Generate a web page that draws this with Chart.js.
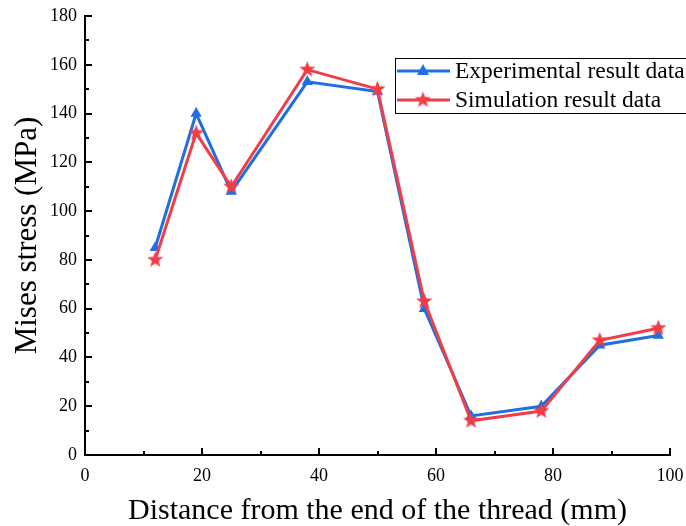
<!DOCTYPE html>
<html lang="en">
<head>
  <meta charset="UTF-8">
  <title>Mises stress along the thread</title>
  <script src="https://cdn.jsdelivr.net/npm/chart.js"></script>
  <style>
    body { margin: 0; background: #fff; }
  </style>
</head>
<body>
  <canvas id="stressChart" width="686" height="526"></canvas>

  <script>
    // values
    const distances = [12, 19, 25, 38, 50, 58, 66, 78, 88, 98];
    const experimental = [85, 140, 108, 153, 149, 60, 16, 20, 45, 49];
    const simulation = [80, 132, 110, 158, 150, 63, 14, 18, 47, 52];
    const seriesNames = ['Experimental result data', 'Simulation result data'];

    const BLUE = 'rgb(30, 110, 228)';
    const RED = 'rgb(240, 62, 72)';
    const SERIF = '"Liberation Serif", "Times New Roman", serif';

    // filled five point star used as marker
    function makeStar(color, outer, inner) {
      const c = document.createElement('canvas');
      const s = Math.ceil(outer * 2 + 2);
      c.width = s; c.height = s;
      const g = c.getContext('2d');
      g.translate(s / 2, s / 2);
      g.beginPath();
      for (let i = 0; i < 10; i++) {
        const r = i % 2 === 0 ? outer : inner;
        const a = -Math.PI / 2 + i * Math.PI / 5;
        g.lineTo(r * Math.cos(a), r * Math.sin(a));
      }
      g.closePath();
      g.fillStyle = color;
      g.fill();
      return c;
    }
    const starImg = makeStar(RED, 8.5, 3.6);

    function toPoints(xs, ys) {
      return xs.map((x, i) => ({ x: x, y: ys[i] }));
    }

    // inward ticks (major + minor) and the boxed legend
    const decorations = {
      id: 'decorations',
      afterDraw(chart) {
        const ctx = chart.ctx;
        const xs = chart.scales.x, ys = chart.scales.y;
        const area = chart.chartArea;
        ctx.save();
        ctx.strokeStyle = '#000';
        ctx.lineWidth = 2;
        ctx.beginPath();
        for (let v = 0; v <= 100; v += 10) {
          const px = Math.round(xs.getPixelForValue(v));
          const len = v % 20 === 0 ? 7 : 4;
          ctx.moveTo(px, area.bottom);
          ctx.lineTo(px, area.bottom - len);
        }
        for (let v = 0; v <= 180; v += 10) {
          const py = Math.round(ys.getPixelForValue(v));
          const len = v % 20 === 0 ? 7 : 4;
          ctx.moveTo(area.left, py);
          ctx.lineTo(area.left + len, py);
        }
        ctx.stroke();

        // legend
        ctx.lineWidth = 1;
        ctx.strokeRect(395.5, 58.5, 320, 55);
        const rows = [
          { y: 71, color: BLUE, name: seriesNames[0], marker: 'tri' },
          { y: 100, color: RED, name: seriesNames[1], marker: 'star' }
        ];
        rows.forEach(r => {
          ctx.strokeStyle = r.color;
          ctx.lineWidth = 3;
          ctx.beginPath();
          ctx.moveTo(397, r.y);
          ctx.lineTo(450, r.y);
          ctx.stroke();
          if (r.marker === 'tri') {
            ctx.fillStyle = r.color;
            ctx.beginPath();
            ctx.moveTo(423, r.y - 7);
            ctx.lineTo(429, r.y + 4);
            ctx.lineTo(417, r.y + 4);
            ctx.closePath();
            ctx.fill();
          } else {
            ctx.drawImage(starImg, 423 - starImg.width / 2, r.y - starImg.height / 2);
          }
          ctx.fillStyle = '#000';
          ctx.font = '23.5px ' + SERIF;
          ctx.textBaseline = 'middle';
          ctx.fillText(r.name, 455, r.y + 1);
        });
        ctx.restore();
      }
    };

    const ctx = document.getElementById('stressChart').getContext('2d');
    new Chart(ctx, {
      type: 'line',
      data: {
        datasets: [{
          label: seriesNames[0],
          data: toPoints(distances, experimental),
          borderColor: BLUE,
          backgroundColor: BLUE,
          borderWidth: 3,
          pointStyle: 'triangle',
          pointRadius: 6.5,
          pointBorderWidth: 0,
          order: 1
        }, {
          label: seriesNames[1],
          data: toPoints(distances, simulation),
          borderColor: RED,
          backgroundColor: RED,
          borderWidth: 3,
          pointStyle: starImg,
          order: 0
        }]
      },
      options: {
        responsive: false,
        animation: false,
        devicePixelRatio: 1,
        layout: { padding: { left: 0, top: 16, right: 16, bottom: 0 } },
        plugins: {
          legend: { display: false },
          tooltip: { enabled: false }
        },
        scales: {
          x: {
            type: 'linear',
            min: 0,
            max: 100,
            afterFit(scale) {
              scale.height = 71;
              scale.paddingLeft = 0;
              scale.paddingRight = 0;
            },
            grid: { display: false, drawTicks: false },
            border: { display: true, color: '#000', width: 2 },
            ticks: {
              stepSize: 20,
              padding: 10,
              color: '#000',
              font: { family: SERIF, size: 18 }
            },
            title: {
              display: true,
              text: 'Distance from the end of the thread (mm)',
              color: '#000',
              font: { family: SERIF, size: 30, lineHeight: 1.0 },
              padding: { top: 0, bottom: 0 }
            }
          },
          y: {
            min: 0,
            max: 180,
            afterFit(scale) {
              scale.width = 85;
              scale.paddingTop = 0;
              scale.paddingBottom = 0;
            },
            grid: { display: false, drawTicks: false },
            border: { display: true, color: '#000', width: 2 },
            ticks: {
              stepSize: 20,
              padding: 8,
              color: '#000',
              font: { family: SERIF, size: 18 }
            },
            title: {
              display: true,
              text: 'Mises stress (MPa)',
              color: '#000',
              font: { family: SERIF, size: 31, lineHeight: 1.0 },
              padding: { top: 12, bottom: 0 }
            }
          }
        }
      },
      plugins: [decorations]
    });
  </script>
</body>
</html>
